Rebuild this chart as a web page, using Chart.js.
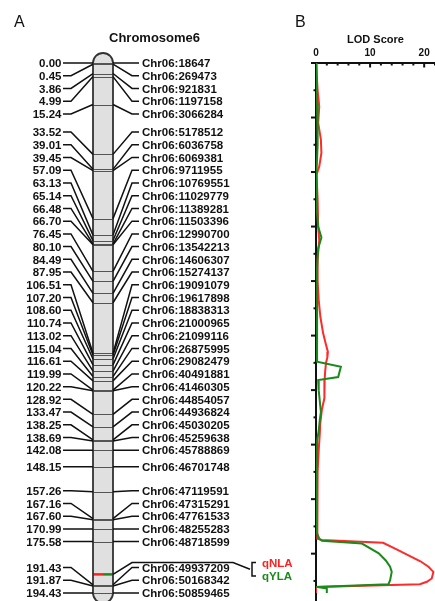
<!DOCTYPE html>
<html>
<head>
<meta charset="utf-8">
<script src="https://cdn.jsdelivr.net/npm/chart.js@4.4.0/dist/chart.umd.min.js"></script>
<style>
  html, body { margin: 0; padding: 0; background: #fff; }
</style>
</head>
<body>
<canvas id="lod" width="435" height="601"></canvas>
<script>
// data set
var markerPos = [0.00, 0.45, 3.86, 4.99, 15.24, 33.52, 39.01, 39.45, 57.09, 63.13, 65.14, 66.48, 66.70, 76.45, 80.10, 84.49, 87.95,
  106.51, 107.20, 108.60, 110.74, 113.02, 115.04, 116.61, 119.99, 120.22, 128.92, 133.47, 138.25, 138.69, 142.08, 148.15,
  157.26, 167.16, 167.60, 170.99, 175.58, 191.43, 191.87, 194.43];
var markerName = ['Chr06:18647', 'Chr06:269473', 'Chr06:921831', 'Chr06:1197158', 'Chr06:3066284', 'Chr06:5178512',
  'Chr06:6036758', 'Chr06:6069381', 'Chr06:9711955', 'Chr06:10769551', 'Chr06:11029779', 'Chr06:11389281',
  'Chr06:11503396', 'Chr06:12990700', 'Chr06:13542213', 'Chr06:14606307', 'Chr06:15274137', 'Chr06:19091079',
  'Chr06:19617898', 'Chr06:18838313', 'Chr06:21000965', 'Chr06:21099116', 'Chr06:26875995', 'Chr06:29082479',
  'Chr06:40491881', 'Chr06:41460305', 'Chr06:44854057', 'Chr06:44936824', 'Chr06:45030205', 'Chr06:45259638',
  'Chr06:45788869', 'Chr06:46701748', 'Chr06:47119591', 'Chr06:47315291', 'Chr06:47761533', 'Chr06:48255283',
  'Chr06:48718599', 'Chr06:49937209', 'Chr06:50168342', 'Chr06:50859465'];
var qtlPos = 187.6;
var qtlNames = ['qNLA', 'qYLA'];

// LOD profiles (cM, LOD)
var nlaPos = [0, 10, 16, 22, 28, 33, 38, 41, 50, 60, 65, 72, 80, 87, 93, 99, 103, 106, 108, 110, 113, 116, 120, 123,
  127, 132, 136, 142, 150, 165, 174.5, 175.0, 176.0, 178.5, 180.6, 182.8, 184.8, 186.7, 189.1, 190.3, 191.2, 192.2, 194.43];
var nlaLod = [0.0, 0.3, 0.6, 0.4, 0.9, 1.0, 0.6, 0.1, 0.3, 0.4, 0.6, 0.3, 0.3, 0.5, 0.8, 1.3, 1.8, 2.2, 2.1, 1.85, 1.7, 1.6,
  1.6, 1.5, 1.1, 0.8, 0.7, 0.5, 0.3, 0.2, 0.3, 1.1, 12.4, 15.0, 17.1, 19.3, 20.8, 21.7, 21.4, 20.5, 19.2, 0.0, 0.0];
var ylaPos = [0, 15, 30, 40, 55, 60, 64, 68, 75, 90, 105, 109.6, 111.4, 115.2, 116.3, 120, 124, 128, 131, 135, 138.5,
  145, 160, 172, 174.5, 175.3, 176.3, 179.9, 182.5, 184.8, 186.7, 189.7, 191.2, 192.2, 192.8, 194.43];
var ylaLod = [0.1, 0.2, 0.3, 0.1, 0.2, 0.4, 1.0, 0.4, 0.2, 0.2, 0.2, 0.2, 4.6, 4.1, 0.4, 0.5, 0.7, 0.9, 0.7, 0.5, 0.2,
  0.2, 0.1, 0.1, 0.6, 1.1, 8.5, 11.6, 12.9, 13.7, 14.0, 13.7, 13.4, 0.2, 2.0, 2.0];
var lodTicks = [0, 10, 20];

const FONT = "'Liberation Sans', Arial, sans-serif";
Chart.defaults.font.family = FONT;

function toPoints(pos, lod) {
  return pos.map((p, i) => ({ x: lod[i], y: p }));
}

// panel A: chromosome map, placed with the cM scale of the chart
const chromosome = {
  id: 'chromosome',
  afterDraw(chart) {
    const ctx = chart.ctx;
    const ys = chart.scales.y;
    const py = v => ys.getPixelForValue(v);
    const n = markerPos.length;
    const cL = 93, cR = 113, cM = 103, r = 10;
    const top = py(markerPos[0]), bottom = py(markerPos[n - 1]);

    // spread labels: push up from the bottom, then down from the top
    const gap = 12.73;
    const lab = markerPos.map(py);
    lab[n - 1] = Math.min(lab[n - 1], bottom);
    for (let i = n - 2; i >= 0; i--) lab[i] = Math.min(lab[i], lab[i + 1] - gap);
    lab[0] = Math.max(lab[0], top);
    for (let i = 1; i < n; i++) lab[i] = Math.max(lab[i], lab[i - 1] + gap);

    ctx.save();
    // body
    ctx.beginPath();
    ctx.arc(cM, top, r, Math.PI, 0);
    ctx.lineTo(cR, bottom);
    ctx.arc(cM, bottom, r, 0, Math.PI);
    ctx.closePath();
    ctx.fillStyle = '#e0e0e0';
    ctx.fill();

    // bands
    ctx.lineWidth = 1;
    ctx.strokeStyle = '#555';
    markerPos.forEach(p => {
      const y = Math.round(py(p)) + 0.5;
      ctx.beginPath();
      ctx.moveTo(cL, y);
      ctx.lineTo(cR, y);
      ctx.stroke();
    });

    // qtl band
    const qy = py(qtlPos);
    ctx.lineWidth = 2.5;
    ctx.strokeStyle = '#ff2020';
    ctx.beginPath(); ctx.moveTo(cL, qy); ctx.lineTo(cM, qy); ctx.stroke();
    ctx.strokeStyle = '#1a8a1a';
    ctx.beginPath(); ctx.moveTo(cM, qy); ctx.lineTo(cR, qy); ctx.stroke();

    // outline
    ctx.beginPath();
    ctx.arc(cM, top, r, Math.PI, 0);
    ctx.lineTo(cR, bottom);
    ctx.arc(cM, bottom, r, 0, Math.PI);
    ctx.closePath();
    ctx.lineWidth = 1.8;
    ctx.strokeStyle = '#333';
    ctx.stroke();

    // connectors
    ctx.lineWidth = 1.5;
    ctx.strokeStyle = '#111';
    markerPos.forEach((p, i) => {
      const my = py(p);
      ctx.beginPath();
      ctx.moveTo(63, lab[i]);
      ctx.lineTo(71, lab[i]);
      ctx.lineTo(cL, my);
      ctx.moveTo(cR, my);
      ctx.lineTo(132, lab[i]);
      ctx.lineTo(139, lab[i]);
      ctx.stroke();
    });

    // labels
    ctx.fillStyle = '#111';
    ctx.font = 'bold 11.5px ' + FONT;
    ctx.textBaseline = 'middle';
    markerPos.forEach((p, i) => {
      ctx.textAlign = 'right';
      ctx.fillText(p.toFixed(2), 61.5, lab[i] + 1);
      ctx.textAlign = 'left';
      ctx.fillText(markerName[i], 142, lab[i] + 1);
    });

    // qtl annotation
    const k = markerPos.findIndex(p => p >= qtlPos);
    const ql = lab[k] - 5;
    ctx.lineWidth = 1.5;
    ctx.strokeStyle = '#111';
    ctx.beginPath();
    ctx.moveTo(cR, qy);
    ctx.lineTo(132, ql);
    ctx.lineTo(233, ql);
    ctx.lineTo(250, ql + 6.7);
    ctx.stroke();
    ctx.beginPath();
    ctx.moveTo(256, ql);
    ctx.lineTo(252, ql);
    ctx.lineTo(252, ql + 13.5);
    ctx.lineTo(256, ql + 13.5);
    ctx.stroke();
    ctx.textAlign = 'left';
    ctx.fillStyle = '#ff2020';
    ctx.fillText(qtlNames[0], 262, ql + 0.8);
    ctx.fillStyle = '#1a8a1a';
    ctx.fillText(qtlNames[1], 262, ql + 14.5);

    // titles
    ctx.fillStyle = '#111';
    ctx.font = 'bold 13px ' + FONT;
    ctx.textAlign = 'center';
    ctx.fillText('Chromosome6', 154.5, 38);
    ctx.font = '16px ' + FONT;
    ctx.textAlign = 'left';
    ctx.fillText('A', 14, 23);
    ctx.fillText('B', 295, 23);
    ctx.restore();
  }
};

// tick marks of panel B
const axisTicks = {
  id: 'axisTicks',
  afterDraw(chart) {
    const ctx = chart.ctx;
    const xs = chart.scales.x, ys = chart.scales.y;
    const left = chart.chartArea.left, top = chart.chartArea.top;
    ctx.save();
    ctx.strokeStyle = '#111';
    ctx.lineWidth = 2;
    for (let v = 0; v <= 190; v += 10) {
      const y = ys.getPixelForValue(v);
      const len = v % 20 === 0 ? 5 : 2.5;
      ctx.beginPath();
      ctx.moveTo(left - len, y);
      ctx.lineTo(left, y);
      ctx.stroke();
    }
    for (let v = 2; v <= 22; v += 2) {
      const x = xs.getPixelForValue(v);
      const len = v % 10 === 0 ? 4.5 : 2.5;
      ctx.beginPath();
      ctx.moveTo(x, top);
      ctx.lineTo(x, top + len);
      ctx.stroke();
    }
    ctx.restore();
  }
};

new Chart('lod', {
  type: 'scatter',
  data: {
    datasets: [{
      label: qtlNames[1],
      data: toPoints(ylaPos, ylaLod),
      showLine: true,
      borderColor: '#1a8a1a',
      borderWidth: 2,
      pointRadius: 0,
      tension: 0
    }, {
      label: qtlNames[0],
      data: toPoints(nlaPos, nlaLod),
      showLine: true,
      borderColor: '#ff2a2a',
      borderWidth: 2,
      pointRadius: 0,
      tension: 0
    }]
  },
  options: {
    responsive: false,
    devicePixelRatio: 1,
    animation: false,
    layout: { padding: { left: 310, top: 33, right: 0, bottom: 1 } },
    plugins: {
      legend: { display: false },
      tooltip: { enabled: false }
    },
    scales: {
      x: {
        type: 'linear',
        position: 'top',
        min: 0,
        max: 22,
        afterBuildTicks: axis => { axis.ticks = lodTicks.map(v => ({ value: v })); },
        afterFit: axis => { axis.height = 30; },
        grid: { display: false, drawTicks: false },
        border: { display: true, color: '#111', width: 2 },
        ticks: { color: '#111', padding: 4, font: { size: 10, weight: 'bold' }, maxRotation: 0 },
        title: { display: true, text: 'LOD Score', color: '#111', padding: 0, font: { size: 11, weight: 'bold' } }
      },
      y: {
        type: 'linear',
        reverse: true,
        min: 0,
        max: 197,
        afterFit: axis => { axis.width = 6; },
        grid: { display: false, drawTicks: false },
        border: { display: true, color: '#111', width: 2 },
        ticks: { display: false }
      }
    }
  },
  plugins: [chromosome, axisTicks]
});
</script>
</body>
</html>
